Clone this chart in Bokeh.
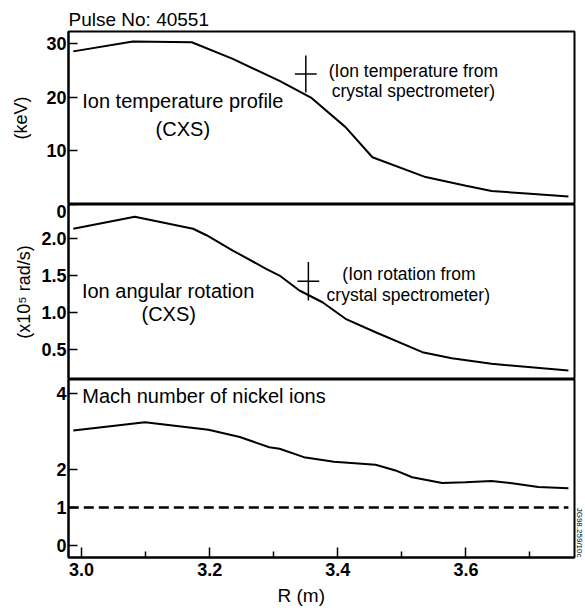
from bokeh.plotting import figure
from bokeh.layouts import column
from bokeh.models import (Range1d, FixedTicker, Label, Title, PrintfTickFormatter,
                          CustomJSTickFormatter)
from bokeh.embed import file_html
from bokeh.resources import INLINE

# ---------------- data ----------------
r_temp = [2.987, 3.080, 3.172, 3.236, 3.309, 3.358, 3.412, 3.454, 3.537, 3.600, 3.640, 3.700, 3.760]
ti_kev = [28.5, 30.35, 30.2, 27.1, 23.0, 19.9, 14.4, 8.8, 5.1, 3.5, 2.5, 2.0, 1.5]

r_rot = [2.987, 3.083, 3.174, 3.195, 3.236, 3.288, 3.309, 3.340, 3.376, 3.412, 3.459, 3.532, 3.578, 3.640, 3.760]
omega = [2.127, 2.29, 2.127, 2.04, 1.834, 1.588, 1.497, 1.295, 1.137, 0.914, 0.733, 0.464, 0.383, 0.307, 0.217]

r_mach = [2.987, 3.099, 3.198, 3.247, 3.293, 3.309, 3.347, 3.394, 3.459, 3.490, 3.516, 3.563, 3.599, 3.640, 3.672, 3.713, 3.760]
mach = [3.03, 3.25, 3.05, 2.86, 2.59, 2.55, 2.33, 2.21, 2.13, 1.98, 1.80, 1.65, 1.67, 1.70, 1.64, 1.54, 1.51]

r_sonic = [2.980, 3.760]
mach_sonic = [1.0, 1.0]

# crystal spectrometer points (value, error)
xs_r_ti = [3.350]
xs_ti = [24.3]
xs_ti_err = [3.45]
xs_r_om = [3.354]
xs_om = [1.42]
xs_om_err = [0.26]
xs_r_err = [0.017]

r_ticks = [3.0, 3.2, 3.4, 3.6]
r_minor = [3.1, 3.3, 3.5, 3.7]
ti_ticks = [10, 20, 30]
om_ticks = [0.5, 1.0, 1.5, 2.0]
mach_ticks = [0, 1, 2, 4]

FONT = "Liberation Sans"
x_range = Range1d(2.9795, 3.7695)
OM_TOP = 2.454


def base(height, yr, ticks, top, bottom, xaxis):
    p = figure(width=585, height=height, x_range=x_range, y_range=Range1d(*yr),
               output_backend="svg", toolbar_location=None,
               min_border_left=68, min_border_right=9,
               min_border_top=top, min_border_bottom=bottom,
               x_axis_location="below" if xaxis else None)
    p.outline_line_color = "black"
    p.outline_line_width = 2
    p.grid.visible = False
    p.background_fill_color = "white"
    p.border_fill_color = "white"
    ya = p.yaxis[0]
    ya.ticker = FixedTicker(ticks=ticks, minor_ticks=[])
    ya.major_tick_in = 9
    ya.major_tick_out = 0
    ya.minor_tick_in = 0
    ya.minor_tick_out = 0
    ya.axis_line_width = 2
    ya.major_tick_line_width = 1.5
    ya.major_label_text_font = FONT
    ya.major_label_text_font_size = "18px"
    ya.major_label_text_font_style = "bold"
    ya.major_label_text_color = "black"
    ya.major_label_standoff = 2
    ya.axis_label_text_font = FONT
    ya.axis_label_text_font_size = "18px"
    ya.axis_label_text_font_style = "normal"
    ya.axis_label_text_color = "black"
    return p


def text(p, x, y, s, size="20px", align="center"):
    p.add_layout(Label(x=x, y=y, text=s, text_font=FONT, text_font_size=size,
                       text_align=align, text_baseline="middle", text_color="black"))


# ---------------- top panel: ion temperature ----------------
p1 = base(204, (0, 32.2), ti_ticks, 31, 0, False)
p1.title.text = "Pulse No: 40551"
p1.title.align = "left"
p1.title.text_font = FONT
p1.title.text_font_size = "19px"
p1.title.text_font_style = "normal"
p1.title.text_color = "black"
p1.title.standoff = 3
p1.line(r_temp, ti_kev, line_color="black", line_width=2)
p1.segment(x0=[r - e for r, e in zip(xs_r_ti, xs_r_err)], y0=xs_ti,
           x1=[r + e for r, e in zip(xs_r_ti, xs_r_err)], y1=xs_ti,
           line_color="black", line_width=1.5)
p1.segment(x0=xs_r_ti, y0=[v - e for v, e in zip(xs_ti, xs_ti_err)],
           x1=xs_r_ti, y1=[v + e for v, e in zip(xs_ti, xs_ti_err)],
           line_color="black", line_width=1.5)
p1.yaxis.axis_label = "(keV)"
p1.yaxis.axis_label_standoff = 12
text(p1, 3.158, 19.3, "Ion temperature profile")
text(p1, 3.158, 14.1, "(CXS)")
text(p1, 3.518, 24.9, "(Ion temperature from", "17.5px")
text(p1, 3.518, 21.2, "crystal spectrometer)", "17.5px")

# ---------------- middle panel: angular rotation ----------------
p2 = base(175, (0.096, OM_TOP), om_ticks + [OM_TOP], 0, 0, False)
# the tick on the top edge carries the "0" of the upper panel
p2.yaxis.formatter = CustomJSTickFormatter(
    code="return tick > 2.3 ? '0' : tick.toFixed(1);")
p2.line(r_rot, omega, line_color="black", line_width=2)
p2.segment(x0=[r - e for r, e in zip(xs_r_om, xs_r_err)], y0=xs_om,
           x1=[r + e for r, e in zip(xs_r_om, xs_r_err)], y1=xs_om,
           line_color="black", line_width=1.5)
p2.segment(x0=xs_r_om, y0=[v - e for v, e in zip(xs_om, xs_om_err)],
           x1=xs_r_om, y1=[v + e for v, e in zip(xs_om, xs_om_err)],
           line_color="black", line_width=1.5)
p2.yaxis.axis_label = "(x10\u2075 rad/s)"
p2.yaxis.axis_label_standoff = 4
text(p2, 3.135, 1.295, "Ion angular rotation")
text(p2, 3.136, 0.985, "(CXS)")
text(p2, 3.511, 1.524, "(Ion rotation from", "17.5px")
text(p2, 3.510, 1.241, "crystal spectrometer)", "17.5px")

# ---------------- bottom panel: Mach number ----------------
p3 = base(233, (-0.316, 4.377), mach_ticks, 0, 55, True)
p3.line(r_mach, mach, line_color="black", line_width=2)
p3.line(r_sonic, mach_sonic, line_color="black", line_width=2.5, line_dash="10 5")
xa = p3.xaxis[0]
xa.ticker = FixedTicker(ticks=r_ticks, minor_ticks=r_minor)
xa.formatter = PrintfTickFormatter(format="%.1f")
xa.major_tick_in = 10
xa.major_tick_out = 0
xa.minor_tick_in = 6
xa.minor_tick_out = 0
xa.axis_line_width = 2
xa.major_tick_line_width = 1.5
xa.minor_tick_line_width = 1.5
xa.major_label_text_font = FONT
xa.major_label_text_font_size = "18px"
xa.major_label_text_font_style = "bold"
xa.major_label_text_color = "black"
xa.major_label_standoff = 5
p3.add_layout(Title(text="R (m)", align="left", offset=209, standoff=8,
                    text_font=FONT, text_font_size="19px", text_font_style="normal",
                    text_color="black"), "below")
p3.add_layout(Title(text="JG98.259/10c", align="right", offset=0, standoff=0,
                    text_font=FONT, text_font_size="8px", text_font_style="normal",
                    text_color="black"), "right")
text(p3, 3.001, 3.93, "Mach number of nickel ions", "20px", "left")

layout = column(p1, p2, p3, spacing=0)
open("out.html", "w").write(file_html(layout, INLINE))
